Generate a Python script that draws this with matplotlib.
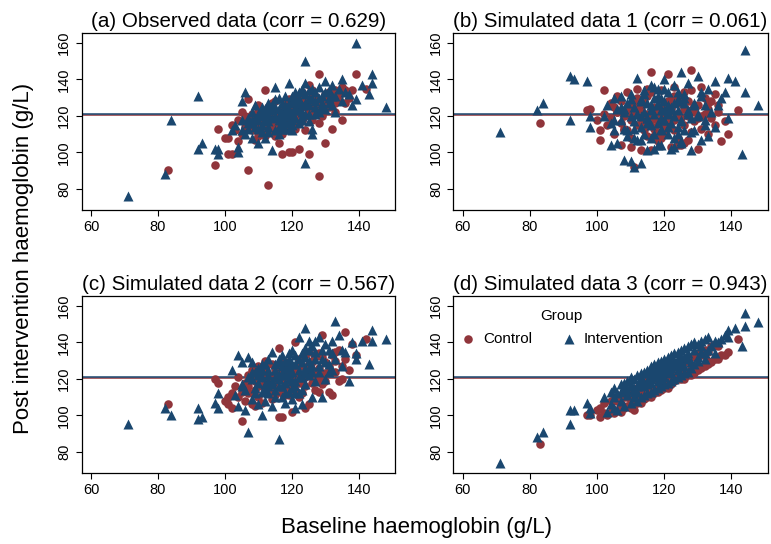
import matplotlib
matplotlib.use("Agg")
import matplotlib.pyplot as plt

plt.rcParams['font.family'] = ['Liberation Sans', 'DejaVu Sans']

MAROON = '#90353B'
NAVY = '#1A476F'

# baseline haemoglobin (g/L), shared by all four panels
control_baseline = [
    83, 97, 98, 100, 101, 101, 102, 102, 103, 104,
    104, 105, 105, 106, 106, 107, 107, 107, 108, 108,
    109, 109, 110, 110, 110, 111, 111, 112, 112, 113,
    113, 113, 114, 114, 115, 115, 115, 116, 116, 117,
    117, 117, 118, 118, 118, 119, 119, 120, 120, 120,
    121, 121, 121, 122, 122, 122, 123, 123, 124, 124,
    124, 125, 125, 126, 126, 126, 127, 127, 128, 128,
    129, 129, 130, 130, 131, 131, 132, 132, 133, 133,
    134, 134, 135, 135, 136, 136, 137, 138, 139, 142,
    112, 116, 119, 123, 118, 121, 125, 110, 128, 114,
    108, 111, 113, 115, 117, 119, 120, 122, 124, 126,
    110, 114, 116, 118, 121, 123, 125, 127, 129, 131,
    106, 109, 112, 119, 122, 126, 128, 130, 133, 117,
]
intervention_baseline = [
    71, 82, 84, 92, 92, 93, 97, 98, 98, 102,
    103, 104, 104, 105, 105, 106, 106, 107, 107, 108,
    108, 108, 109, 109, 110, 110, 110, 111, 111, 111,
    112, 112, 112, 113, 113, 113, 114, 114, 114, 115,
    115, 115, 116, 116, 116, 117, 117, 117, 118, 118,
    118, 119, 119, 119, 120, 120, 120, 121, 121, 121,
    122, 122, 122, 123, 123, 123, 124, 124, 124, 125,
    125, 125, 126, 126, 127, 127, 128, 128, 129, 129,
    130, 130, 131, 131, 132, 132, 133, 133, 134, 135,
    135, 136, 137, 138, 139, 139, 141, 143, 144, 144,
    148, 116, 119, 121, 113, 124, 118, 111, 126, 120,
    105, 107, 109, 110, 112, 113, 114, 115, 116, 117,
    118, 119, 120, 121, 122, 123, 124, 125, 126, 127,
    128, 129, 130, 131, 132, 108, 111, 113, 115, 117,
    119, 121, 123, 125, 118, 120, 122, 124, 116, 127,
]

# post intervention haemoglobin (g/L): observed data
control_post_obs = [
    90, 93, 113, 108, 99, 108, 99, 115, 112, 118,
    106, 110, 122, 120, 114, 90, 129, 117, 112, 121,
    107, 118, 115, 124, 111, 119, 113, 121, 109, 82,
    116, 125, 120, 112, 118, 128, 109, 121, 114, 99,
    123, 117, 119, 127, 112, 120, 115, 100, 124, 118,
    126, 113, 120, 102, 122, 129, 117, 125, 120, 130,
    112, 99, 126, 122, 118, 131, 124, 128, 87, 143,
    121, 126, 105, 132, 125, 128, 113, 130, 134, 122,
    128, 131, 118, 136, 127, 134, 130, 134, 143, 135,
    134, 105, 100, 133, 122, 130, 137, 126, 116, 127,
    113, 118, 121, 115, 124, 118, 126, 119, 127, 121,
    109, 123, 117, 125, 116, 128, 124, 131, 120, 133,
    116, 120, 112, 129, 125, 134, 125, 128, 127, 110,
]
intervention_post_obs = [
    76, 88, 118, 131, 102, 105, 102, 99, 102, 112,
    115, 100, 103, 128, 118, 133, 110, 119, 113, 108,
    122, 116, 114, 126, 105, 118, 121, 111, 120, 115,
    124, 108, 118, 121, 114, 127, 101, 119, 123, 136,
    112, 125, 118, 130, 110, 122, 116, 127, 113, 120,
    131, 124, 117, 138, 121, 128, 112, 125, 119, 133,
    116, 129, 123, 120, 135, 126, 94, 150, 138, 121,
    130, 117, 110, 113, 125, 133, 122, 136, 127, 131,
    139, 124, 130, 134, 126, 137, 131, 122, 135, 140,
    128, 133, 132, 126, 160, 129, 137, 132, 143, 138,
    125, 120, 113, 128, 124, 127, 116, 125, 135, 118,
    112, 116, 119, 113, 121, 117, 126, 120, 124, 119,
    126, 121, 131, 123, 127, 122, 132, 126, 129, 121,
    130, 125, 133, 127, 131, 118, 122, 111, 129, 113,
    127, 130, 118, 134, 123, 115, 133, 121, 114, 128,
]

# simulated data 1
control_post_sim1 = [
    116, 123, 124, 118, 107, 112, 134, 121, 115, 127,
    119, 110, 125, 122, 131, 116, 104, 128, 120, 112,
    124, 133, 118, 108, 126, 92, 121, 115, 130, 119,
    101, 124, 127, 112, 121, 135, 109, 144, 118, 125,
    113, 122, 106, 129, 117, 121, 134, 114, 126, 110,
    143, 120, 128, 103, 117, 124, 131, 112, 121, 108,
    127, 119, 104, 124, 115, 133, 120, 128, 145, 111,
    122, 117, 102, 126, 136, 113, 121, 130, 110, 124,
    119, 128, 115, 132, 122, 126, 106, 117, 110, 123,
    125, 101, 108, 136, 123, 115, 130, 103, 134, 118,
    113, 127, 119, 131, 109, 122, 117, 125, 104, 128,
    121, 115, 133, 111, 124, 118, 130, 107, 126, 120,
    122, 112, 135, 116, 129, 105, 123, 119, 127, 114,
]
intervention_post_sim1 = [
    111, 123, 127, 142, 118, 140, 139, 120, 114, 120,
    126, 104, 116, 130, 112, 124, 105, 131, 118, 96,
    122, 113, 127, 109, 95, 120, 132, 92, 117, 125,
    141, 107, 121, 94, 128, 114, 122, 134, 110, 119,
    127, 101, 124, 137, 108, 102, 121, 130, 116, 126,
    135, 112, 123, 104, 128, 118, 140, 121, 110, 133,
    102, 125, 116, 137, 120, 108, 129, 114, 123, 144,
    118, 106, 132, 112, 123, 138, 101, 119, 127, 112,
    142, 121, 107, 131, 118, 126, 109, 135, 122, 139,
    114, 126, 130, 133, 141, 119, 139, 99, 156, 133,
    126, 115, 130, 126, 120, 133, 104, 113, 127, 123,
    118, 125, 112, 129, 121, 107, 132, 116, 123, 110,
    127, 119, 135, 114, 124, 103, 128, 117, 130, 122,
    111, 126, 120, 133, 115, 124, 108, 129, 119, 136,
    113, 122, 127, 105, 131, 118, 124, 110, 126, 121,
]

# simulated data 2
control_post_sim2 = [
    106, 120, 118, 108, 110, 106, 112, 104, 116, 110,
    121, 97, 113, 118, 108, 122, 112, 116, 106, 125,
    114, 119, 110, 127, 116, 121, 107, 118, 124, 113,
    128, 119, 109, 121, 116, 125, 111, 137, 120, 99,
    124, 114, 119, 129, 111, 123, 116, 102, 127, 120,
    140, 114, 124, 118, 131, 110, 121, 127, 116, 133,
    104, 123, 106, 129, 118, 125, 114, 132, 120, 126,
    144, 117, 123, 129, 113, 127, 111, 133, 124, 130,
    119, 136, 120, 127, 146, 131, 125, 139, 133, 142,
    130, 99, 126, 112, 124, 117, 135, 120, 113, 128,
    112, 116, 122, 118, 112, 125, 117, 127, 121, 130,
    121, 114, 124, 115, 126, 118, 128, 123, 132, 124,
    114, 105, 120, 111, 122, 121, 134, 119, 135, 127,
]
intervention_post_sim2 = [
    95, 104, 100, 104, 98, 99, 107, 104, 112, 125,
    111, 133, 105, 129, 117, 114, 103, 91, 132, 129,
    120, 109, 115, 124, 106, 118, 126, 100, 121, 113,
    117, 128, 108, 122, 112, 131, 119, 135, 105, 125,
    114, 121, 87, 129, 116, 110, 123, 133, 118, 126,
    107, 131, 120, 113, 124, 136, 115, 104, 128, 119,
    143, 112, 125, 121, 134, 106, 148, 126, 117, 141,
    122, 130, 110, 127, 135, 119, 124, 143, 110, 131,
    139, 120, 128, 136, 125, 141, 152, 131, 144, 136,
    127, 135, 119, 140, 134, 131, 141, 128, 147, 141,
    142, 120, 127, 112, 116, 132, 122, 125, 138, 109,
    116, 121, 112, 122, 114, 125, 117, 128, 122, 116,
    130, 123, 119, 133, 121, 129, 123, 136, 124, 131,
    127, 136, 129, 124, 134, 124, 128, 119, 110, 127,
    134, 116, 114, 126, 112, 128, 131, 137, 131, 141,
]

# simulated data 3
control_post_sim3 = [
    84, 100, 100, 103, 99, 104, 101, 107, 100, 108,
    102, 101, 109, 103, 110, 102, 111, 106, 104, 112,
    105, 113, 108, 104, 114, 109, 103, 115, 108, 117,
    107, 112, 117, 109, 119, 110, 114, 120, 111, 114,
    121, 112, 115, 122, 113, 116, 123, 115, 124, 119,
    117, 125, 115, 118, 126, 121, 119, 127, 120, 128,
    122, 121, 129, 120, 124, 130, 122, 131, 122, 127,
    124, 132, 125, 134, 126, 133, 127, 136, 128, 135,
    129, 138, 131, 139, 131, 138, 133, 133, 135, 142,
    111, 115, 120, 122, 119, 121, 124, 110, 125, 113,
    110, 106, 116, 111, 120, 114, 125, 117, 128, 121,
    113, 118, 110, 123, 116, 128, 120, 130, 123, 135,
    108, 110, 107, 122, 125, 129, 123, 133, 130, 113,
]
intervention_post_sim3 = [
    74, 88, 91, 103, 95, 103, 107, 101, 104, 110,
    102, 113, 106, 115, 104, 112, 103, 117, 108, 114,
    105, 118, 111, 119, 107, 116, 121, 110, 120, 114,
    108, 122, 116, 110, 123, 117, 111, 124, 118, 112,
    125, 119, 113, 127, 120, 114, 128, 121, 115, 129,
    122, 116, 130, 123, 117, 131, 124, 118, 132, 125,
    119, 133, 126, 120, 134, 127, 121, 135, 128, 122,
    136, 129, 123, 137, 124, 138, 126, 139, 128, 140,
    139, 130, 135, 141, 131, 142, 136, 143, 138, 141,
    134, 140, 142, 144, 147, 143, 148, 138, 156, 149,
    151, 122, 126, 129, 119, 131, 124, 115, 132, 127,
    110, 113, 114, 117, 113, 120, 116, 123, 118, 125,
    119, 126, 121, 128, 123, 130, 125, 132, 127, 134,
    129, 136, 132, 138, 134, 116, 113, 121, 117, 122,
    120, 124, 128, 127, 126, 127, 129, 131, 124, 131,
]

titles = [
    '(a) Observed data (corr = 0.629)',
    '(b) Simulated data 1 (corr = 0.061)',
    '(c) Simulated data 2 (corr = 0.567)',
    '(d) Simulated data 3 (corr = 0.943)',
]
x_ticks = [60, 80, 100, 120, 140]
y_ticks = [80, 100, 120, 140, 160]
control_mean = 120.4
intervention_mean = 121.0

W, H = 771, 544
fig = plt.figure(figsize=(W / 100, H / 100), dpi=100)

# panel boxes in pixels: left, top, right, bottom
boxes = [
    (81.7, 32.5, 395.0, 210.0),
    (453.3, 32.5, 767.7, 210.0),
    (81.7, 295.5, 395.0, 473.0),
    (453.3, 295.5, 767.7, 473.0),
]
control_posts = [control_post_obs, control_post_sim1, control_post_sim2, control_post_sim3]
intervention_posts = [intervention_post_obs, intervention_post_sim1,
                      intervention_post_sim2, intervention_post_sim3]

for i, (l, t, r, b) in enumerate(boxes):
    ax = fig.add_axes([l / W, 1 - b / H, (r - l) / W, (b - t) / H])
    # group means of the post value, navy line sits on top
    ax.axhline(control_mean, color=MAROON, lw=1.1, zorder=1)
    ax.axhline(intervention_mean, color=NAVY, lw=1.1, zorder=1)
    ax.scatter(control_baseline, control_posts[i], s=38, marker='o',
               color=MAROON, linewidths=0, zorder=2, label='Control')
    ax.scatter(intervention_baseline, intervention_posts[i], s=52, marker='^',
               color=NAVY, linewidths=0, zorder=3, label='Intervention')
    ax.set_xlim(57.2, 150.8)
    ax.set_ylim(68.3, 165.8)
    ax.set_xticks(x_ticks)
    ax.set_yticks(y_ticks)
    ax.tick_params(labelsize=10.5, length=4.5, width=0.8, pad=3)
    for lab in ax.get_yticklabels():
        lab.set_rotation(90)
        lab.set_va('center')
    for sp in ax.spines.values():
        sp.set_linewidth(0.9)
    ax.set_title(titles[i], fontsize=14.8, pad=4)
    if i == 3:
        ax.legend(loc='upper center', bbox_to_anchor=(0.345, 0.99), ncol=2,
                  frameon=False, title='Group', fontsize=11, title_fontsize=11,
                  handlelength=1.0, handletextpad=0.5, columnspacing=1.9,
                  borderpad=0.3, labelspacing=0.55)

fig.text(0.540, 0.031, 'Baseline haemoglobin (g/L)', ha='center', va='center', fontsize=16)
fig.text(0.031, 0.525, 'Post intervention haemoglobin (g/L)', ha='center', va='center',
         rotation=90, fontsize=16)

fig.savefig('out.png', dpi=100)
